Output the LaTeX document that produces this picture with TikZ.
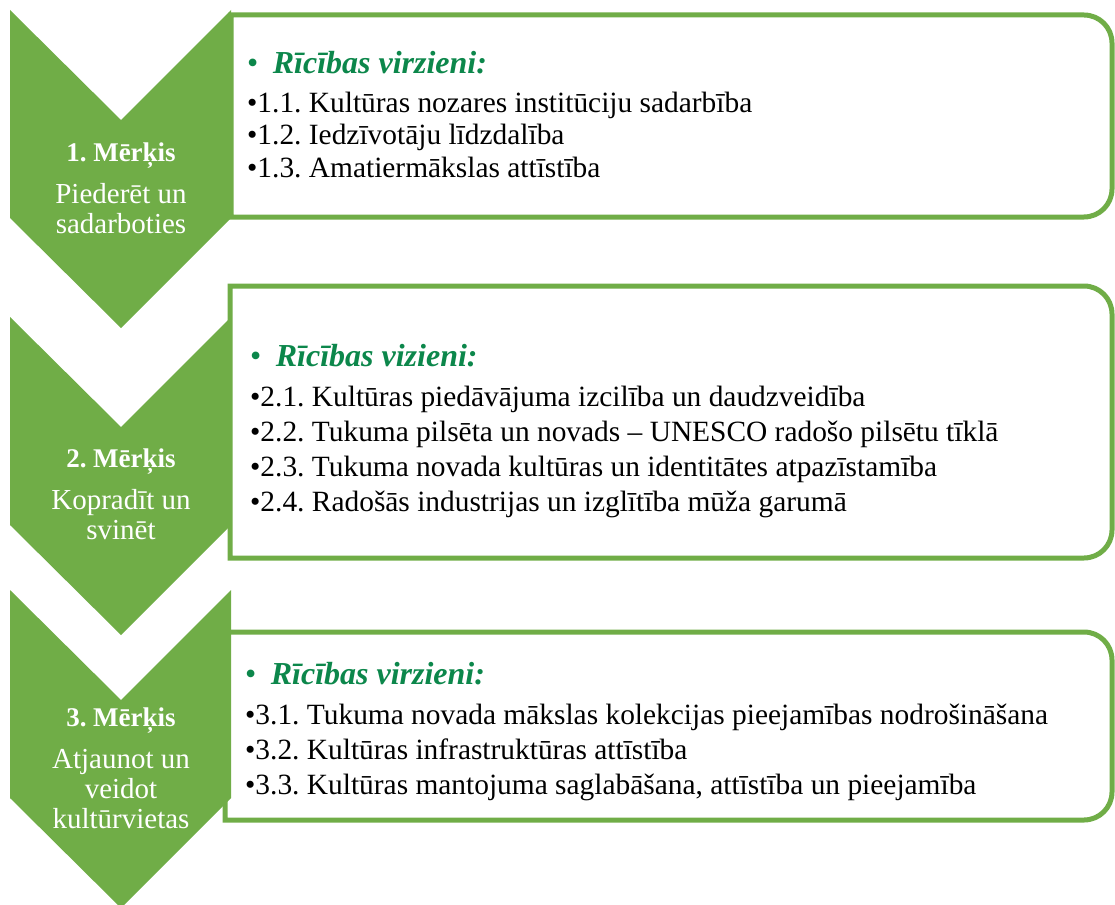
\documentclass[tikz,border=0pt]{standalone}
\usepackage{fontspec}
\setmainfont{Liberation Serif}
\usetikzlibrary{positioning}
\definecolor{goalgreen}{RGB}{112,173,71}
\definecolor{headgreen}{RGB}{12,135,75}
\newcommand{\hdr}[1]{\textcolor{headgreen}{\fontsize{32}{35}\selectfont\textbullet\hspace{0.45em}\textbf{\textit{#1}}}}
\frenchspacing

\begin{document}
\begin{tikzpicture}[x=1pt,y=-1pt,
    chevron/.style={fill=goalgreen},
    box/.style={draw=goalgreen,line width=5pt,fill=white},
    goal/.style={text=white,align=center,anchor=north,inner sep=0pt,font=\fontsize{29}{30}\selectfont},
    list/.style={align=left,anchor=north west,inner sep=0pt,font=\fontsize{29.4}{35}\selectfont}]
\useasboundingbox (0,0) rectangle (1115,904);
\draw[box] (231,217) -- (231,15) -- (1084,15) arc[start angle=-90,end angle=0,radius=28] -- (1112,189) arc[start angle=0,end angle=90,radius=28] -- cycle;
\draw[box] (230,558) -- (230,286) -- (1084,286) arc[start angle=-90,end angle=0,radius=28] -- (1112,530) arc[start angle=0,end angle=90,radius=28] -- cycle;
\draw[box] (225,820) -- (225,632) -- (1084,632) arc[start angle=-90,end angle=0,radius=28] -- (1112,792) arc[start angle=0,end angle=90,radius=28] -- cycle;
\fill[chevron] (10,10) -- (121,120) -- (231,10) -- (231,218) -- (121,328) -- (10,218) -- cycle;
\fill[chevron] (10,317) -- (121,427) -- (231,317) -- (231,525) -- (121,635) -- (10,525) -- cycle;
\fill[chevron] (10,590) -- (121,700) -- (231,590) -- (231,798) -- (121,908) -- (10,798) -- cycle;
\node[goal] (g1) at (121,143) {{\fontsize{27}{30}\selectfont\bfseries 1. Mērķis}\\[12pt]Piederēt un\\sadarboties};
\node[goal] (g2) at (121,449) {{\fontsize{27}{30}\selectfont\bfseries 2. Mērķis}\\[12pt]Kopradīt un\\svinēt};
\node[goal] (g3) at (121,708) {{\fontsize{27}{30}\selectfont\bfseries 3. Mērķis}\\[12pt]Atjaunot un\\veidot\\kultūrvietas};
\node[list,font=\fontsize{29.4}{32.5}\selectfont] (r1) at (247,51) {\hdr{Rīcības virzieni:}\\[6.5pt]
  •1.1. Kultūras nozares institūciju sadarbība\\
  •1.2. Iedzīvotāju līdzdalība\\
  •1.3. Amatiermākslas attīstība};
\node[list] (r2) at (250,344) {\hdr{Rīcības vizieni:}\\[5pt]
  •2.1. Kultūras piedāvājuma izcilība un daudzveidība\\
  •2.2. Tukuma pilsēta un novads – UNESCO radošo pilsētu tīklā\\
  •2.3. Tukuma novada kultūras un identitātes atpazīstamība\\
  •2.4. Radošās industrijas un izglītība mūža garumā};
\node[list] (r3) at (245,662) {\hdr{Rīcības virzieni:}\\[5pt]
  •3.1. Tukuma novada mākslas kolekcijas pieejamības nodrošināšana\\
  •3.2. Kultūras infrastruktūras attīstība\\
  •3.3. Kultūras mantojuma saglabāšana, attīstība un pieejamība};
\end{tikzpicture}
\end{document}
